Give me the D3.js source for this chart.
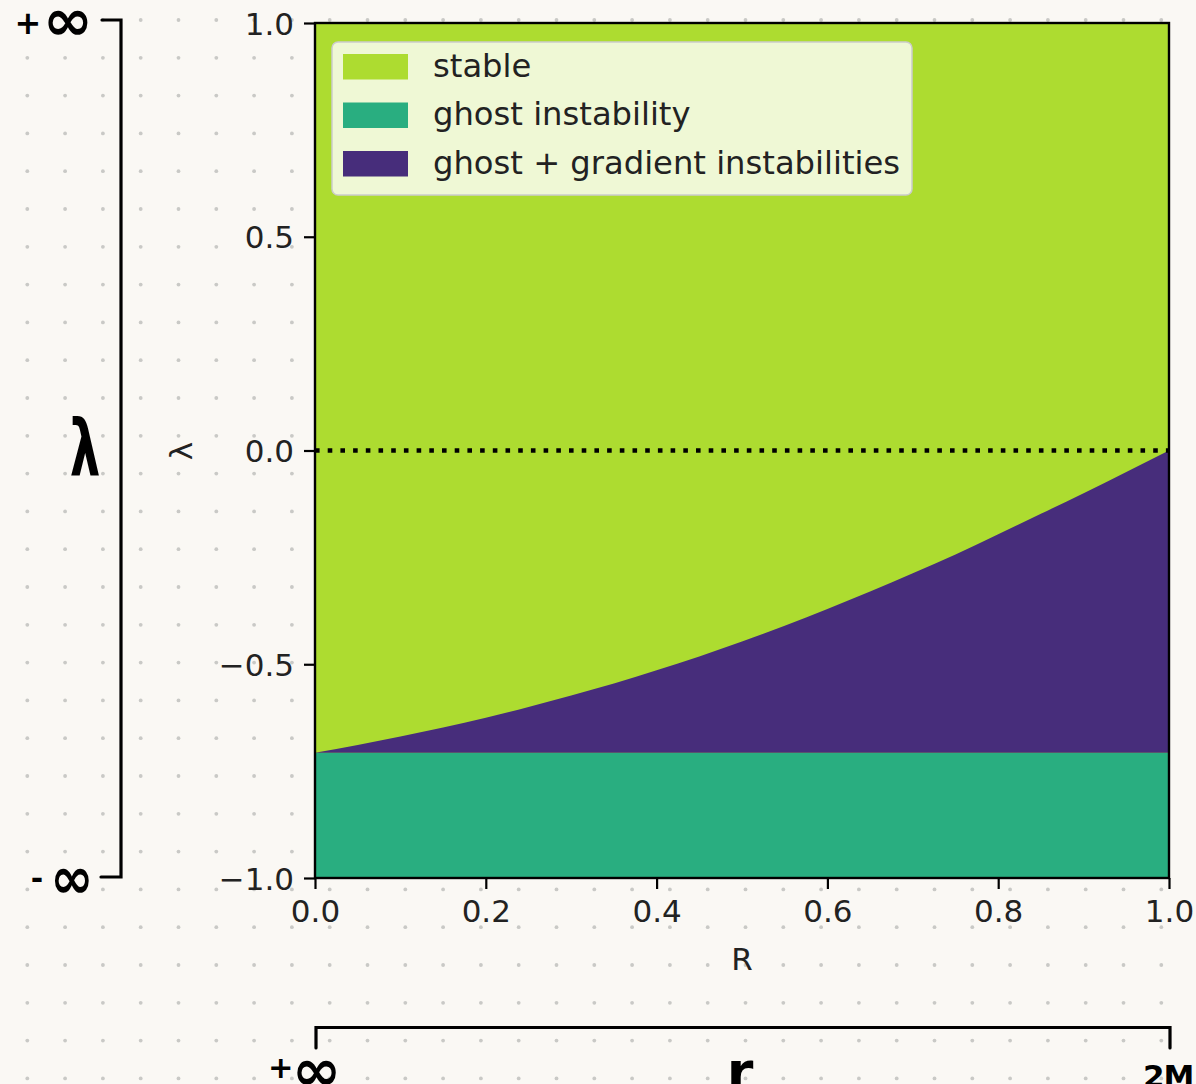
<!DOCTYPE html>
<html>
<head>
<meta charset="utf-8">
<script src="https://cdn.jsdelivr.net/npm/d3@7"></script>
<style>
  html, body { margin: 0; padding: 0; background: #faf8f4; }
  svg { display: block; }
  text { font-family: "DejaVu Sans", sans-serif; }
</style>
</head>
<body>
<svg id="chart" width="1196" height="1084"></svg>
<script>
// Stability regions in the (R, λ) plane.
// R sample points along the horizontal axis
const rValues = [0, 0.05, 0.1, 0.15, 0.2, 0.25, 0.3, 0.35, 0.4, 0.45, 0.5,
                 0.55, 0.6, 0.65, 0.7, 0.75, 0.8, 0.85, 0.9, 0.95, 1.0];
// λ of the boundary between the stable region and the ghost + gradient region
const gradientBoundary = [-0.707, -0.689, -0.669, -0.648, -0.625, -0.600, -0.573,
                          -0.545, -0.514, -0.482, -0.447, -0.410, -0.371, -0.330,
                          -0.287, -0.243, -0.196, -0.148, -0.100, -0.050, 0.0];
// λ below which only the ghost instability remains
const ghostLevel = -0.707;
// the dotted reference line
const referenceLambda = 0.0;

const xTicks = [0.0, 0.2, 0.4, 0.6, 0.8, 1.0];
const yTicks = [-1.0, -0.5, 0.0, 0.5, 1.0];

const legendLabels = ["stable", "ghost instability", "ghost + gradient instabilities"];
const regionColors = ["#addc30", "#29ae80", "#472d7b"];

const svg = d3.select("#chart");
const W = 1196, H = 1084;

// dotted notebook background
const bg = svg.append("g");
bg.append("rect").attr("width", W).attr("height", H).attr("fill", "#faf8f4");
const step = 37.8;
const dotXs = d3.range(27.3, W, step), dotYs = d3.range(20, H, step);
dotYs.forEach(yy => dotXs.forEach(xx => {
  bg.append("circle").attr("cx", xx).attr("cy", yy).attr("r", 1.9).attr("fill", "#c9c9c6");
}));

// plot frame
const frame = { left: 315, right: 1169, top: 23, bottom: 878 };
const x = d3.scaleLinear().domain([0, 1]).range([frame.left, frame.right]);
const y = d3.scaleLinear().domain([-1, 1]).range([frame.bottom, frame.top]);

const pts = rValues.map((r, i) => ({ r, b: gradientBoundary[i] }));
const plot = svg.append("g");

// stable region (everything above the boundary)
plot.append("rect")
  .attr("x", x(0)).attr("y", y(1))
  .attr("width", x(1) - x(0)).attr("height", y(-1) - y(1))
  .attr("fill", regionColors[0]);

// ghost instability band
plot.append("path")
  .datum(pts)
  .attr("fill", regionColors[1])
  .attr("d", d3.area().x(d => x(d.r)).y0(y(-1)).y1(y(ghostLevel)));

// ghost + gradient region between the band and the boundary curve
plot.append("path")
  .datum(pts)
  .attr("fill", regionColors[2])
  .attr("d", d3.area().x(d => x(d.r)).y0(y(ghostLevel)).y1(d => y(d.b)).curve(d3.curveMonotoneX));

// dotted λ = 0 line
plot.append("line")
  .attr("x1", x(0)).attr("x2", x(1))
  .attr("y1", y(referenceLambda)).attr("y2", y(referenceLambda))
  .attr("stroke", "#000").attr("stroke-width", 4.6)
  .attr("stroke-dasharray", "4.6 8.1");

// axes
const fmt = d => d3.format(".1f")(d).replace("-", "\u2212");
const xAxis = svg.append("g")
  .attr("transform", `translate(0,${frame.bottom})`)
  .call(d3.axisBottom(x).tickValues(xTicks).tickFormat(fmt).tickSize(11).tickPadding(10));
const yAxis = svg.append("g")
  .attr("transform", `translate(${frame.left},0)`)
  .call(d3.axisLeft(y).tickValues(yTicks).tickFormat(fmt).tickSize(11).tickPadding(10));
[xAxis, yAxis].forEach(a => {
  a.select(".domain").remove();
  a.selectAll(".tick line").attr("stroke", "#000").attr("stroke-width", 2.2);
  a.selectAll(".tick text").attr("fill", "#222").style("font-size", "31px")
    .style("font-family", "DejaVu Sans, sans-serif");
});
xAxis.selectAll(".tick text").attr("dy", "0.75em");
yAxis.selectAll(".tick text").attr("dy", "0.36em");

// spines
svg.append("rect")
  .attr("x", frame.left).attr("y", frame.top)
  .attr("width", frame.right - frame.left).attr("height", frame.bottom - frame.top)
  .attr("fill", "none").attr("stroke", "#000").attr("stroke-width", 2.4);

// axis titles
svg.append("text").attr("x", (frame.left + frame.right) / 2).attr("y", 970)
  .attr("text-anchor", "middle").attr("fill", "#222").style("font-size", "31px").text("R");
svg.append("text").attr("transform", "translate(192,451) rotate(-90)")
  .attr("text-anchor", "middle").attr("fill", "#222").style("font-size", "31px").text("λ");

// legend
const lg = svg.append("g");
lg.append("rect").attr("x", 332).attr("y", 42).attr("width", 580).attr("height", 153)
  .attr("rx", 6).attr("fill", "#ffffff").attr("fill-opacity", 0.8)
  .attr("stroke", "#cccccc").attr("stroke-width", 1.5);
legendLabels.forEach((lab, i) => {
  const yy = 54 + i * 48.5;
  lg.append("rect").attr("x", 343).attr("y", yy).attr("width", 65).attr("height", 25.5)
    .attr("fill", regionColors[i]);
  lg.append("text").attr("x", 433).attr("y", yy + 22.5)
    .attr("fill", "#222").style("font-size", "32.2px").text(lab);
});

// hand-drawn range brackets and their end labels
const ink = svg.append("g").attr("fill", "#000");
function stroke(d) {
  ink.append("path").attr("d", d)
    .attr("stroke", "#000").attr("stroke-width", 3.2).attr("fill", "none")
    .attr("stroke-linecap", "round");
}
stroke(`M102,20 H121 V877 H101`);
stroke(`M316,1048 V1027.5 H1170 V1048`);

function glyph(ch, cx, yBase, size, sx, sy) {
  ink.append("text")
    .attr("transform", `translate(${cx},${yBase}) scale(${sx},${sy})`)
    .attr("text-anchor", "middle")
    .style("font-size", size + "px").style("font-weight", "bold").text(ch);
}
// upper end of the λ range
glyph("+", 28, 34, 32, 1, 1);
glyph("∞", 68, 40, 40, 1.5, 1.45);
// lower end of the λ range
glyph("-", 37, 889, 30, 1, 1);
glyph("∞", 72, 898, 40, 1.3, 1.45);
// far end of the r range, written as one word
const farEnd = ink.append("text")
  .attr("transform", "translate(268,1090) scale(1.45,1.45)")
  .style("font-weight", "bold");
farEnd.append("tspan").attr("dy", -8).style("font-size", "21px").text("+");
farEnd.append("tspan").attr("dy", 8).attr("dx", -1)
  .attr("transform", null).style("font-size", "40px")
  .style("letter-spacing", "0").text("∞");
farEnd.select("tspan:last-child").attr("textLength", 34).attr("lengthAdjust", "spacingAndGlyphs");

ink.append("text").attr("transform", "translate(85,476) scale(0.62,1)")
  .attr("text-anchor", "middle").style("font-size", "78px").style("font-weight", "bold").text("λ");
ink.append("text").attr("x", 740).attr("y", 1090).attr("text-anchor", "middle")
  .style("font-size", "54px").style("font-weight", "bold").text("r");
ink.append("text").attr("x", 1143).attr("y", 1087)
  .style("font-size", "31px").style("font-weight", "bold").style("letter-spacing", "-1px").text("2M");
</script>
</body>
</html>
